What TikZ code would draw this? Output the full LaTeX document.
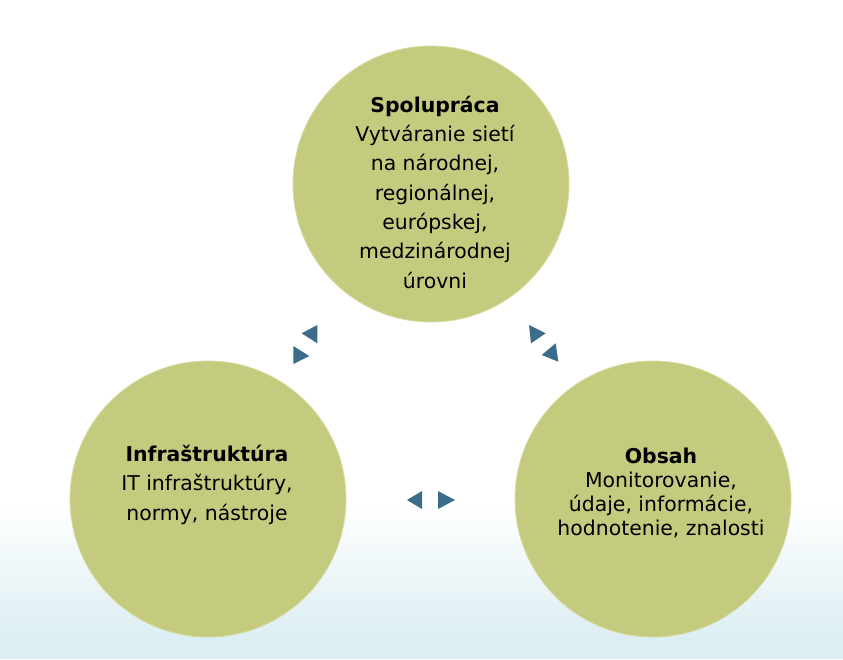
\documentclass[tikz,border=0pt]{standalone}
\usepackage{fontspec}
\setmainfont{DejaVu Sans}
\definecolor{circ}{RGB}{197,203,126}
\definecolor{circedge}{RGB}{214,219,160}
\definecolor{tri}{RGB}{59,108,140}
\definecolor{bgblue}{RGB}{220,238,242}
\tikzset{
  bubble/.style={circle, fill=circ, draw=circedge, line width=0.8pt, minimum size=276pt, inner sep=0pt},
  bubbletext/.style={align=center, anchor=base, inner sep=0pt, font=\fontsize{20.4}{29.3}\selectfont},
  bubbletextb/.style={align=center, anchor=base, inner sep=0pt, font=\fontsize{20.4}{24}\selectfont},
  tribox/.style={fill=tri, draw=none}
}
\begin{document}
\begin{tikzpicture}[x=1pt,y=-1pt]
\useasboundingbox (0,0) rectangle (843,659);
\fill[white] (0,0) rectangle (843,659);
\shade[top color=white, bottom color=bgblue] (0,505) rectangle (843,640);
\fill[bgblue] (0,639.5) rectangle (843,659);
\node[bubble] (top) at (431,184) {};
\node[bubble] (left) at (208,499) {};
\node[bubble] (right) at (653,499) {};
% base anchor = baseline of last line
\node[bubbletext] (toptext) at (435,288) {\textbf{Spolupráca}\\Vytváranie sietí\\na národnej,\\regionálnej,\\európskej,\\medzinárodnej\\úrovni};
\node[bubbletext] (lefttext) at (207,520) {\textbf{Infraštruktúra}\\IT infraštruktúry,\\normy, nástroje};
\node[bubbletextb] (righttext) at (661,535) {\textbf{Obsah}\\Monitorovanie,\\údaje, informácie,\\hodnotenie, znalosti};
% arrowheads
\coordinate (t1a) at (301.7,333.3); \coordinate (t1b) at (317.3,325); \coordinate (t1c) at (317.3,343.3);
\fill[tribox] (t1a) -- (t1b) -- (t1c) -- cycle;
\coordinate (t2a) at (293.3,346); \coordinate (t2b) at (293.3,364); \coordinate (t2c) at (309.3,356);
\fill[tribox] (t2a) -- (t2b) -- (t2c) -- cycle;
\coordinate (t3a) at (529,325); \coordinate (t3b) at (531,343.3); \coordinate (t3c) at (545.7,333.3);
\fill[tribox] (t3a) -- (t3b) -- (t3c) -- cycle;
\coordinate (t4a) at (541.7,355); \coordinate (t4b) at (555.7,343.3); \coordinate (t4c) at (558.3,361.7);
\fill[tribox] (t4a) -- (t4b) -- (t4c) -- cycle;
\coordinate (t5a) at (407,500); \coordinate (t5b) at (422,491); \coordinate (t5c) at (422,509);
\fill[tribox] (t5a) -- (t5b) -- (t5c) -- cycle;
\coordinate (t6a) at (438,491); \coordinate (t6b) at (438,509); \coordinate (t6c) at (455,500);
\fill[tribox] (t6a) -- (t6b) -- (t6c) -- cycle;
\end{tikzpicture}
\end{document}
